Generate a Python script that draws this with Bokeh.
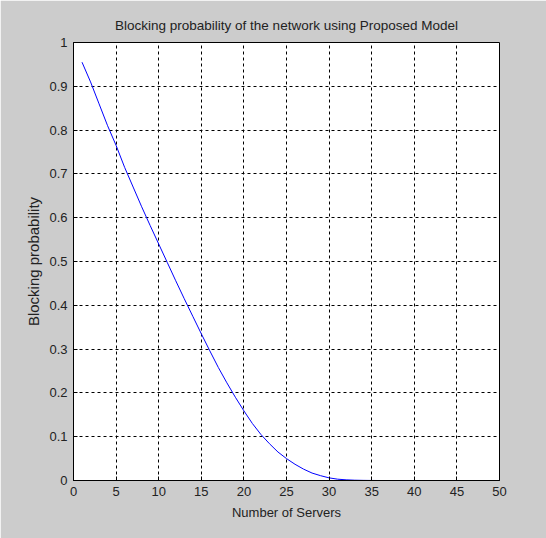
from bokeh.plotting import figure
from bokeh.models import FixedTicker, Range1d
from bokeh.embed import file_html
from bokeh.resources import INLINE

servers = list(range(1, 51))
blocking = [0.955, 0.91, 0.86, 0.81, 0.765, 0.715, 0.67, 0.625, 0.582, 0.54,
            0.498, 0.456, 0.415, 0.375, 0.335, 0.296, 0.258, 0.223, 0.19, 0.159,
            0.13, 0.105, 0.084, 0.065, 0.05, 0.037, 0.026, 0.017, 0.011, 0.006,
            0.003, 0.0015, 0.0007, 0.0003, 0.0001, 0.0, 0.0, 0.0, 0.0, 0.0,
            0.0, 0.0, 0.0, 0.0, 0.0, 0.0, 0.0, 0.0, 0.0, 0.0]
x_ticks = [0, 5, 10, 15, 20, 25, 30, 35, 40, 45, 50]
y_ticks = [0, 0.1, 0.2, 0.3, 0.4, 0.5, 0.6, 0.7, 0.8, 0.9, 1]

FONT = "Liberation Sans"
GREY = "#cccccc"

p = figure(width=546, height=538, output_backend="svg", toolbar_location=None,
           x_range=Range1d(0, 50), y_range=Range1d(0, 1),
           title="Blocking probability of the network using Proposed Model",
           min_border_left=73, min_border_right=47, min_border_top=42, min_border_bottom=58)
p.background_fill_color = "white"
p.border_fill_color = GREY
p.outline_line_color = "black"
p.outline_line_width = 1

p.title.align = "center"
p.title.text_font = FONT
p.title.text_font_style = "normal"
p.title.text_font_size = "13.5px"
p.title.text_color = "#222222"
p.title.standoff = 20

p.line(servers, blocking, line_color="#0000ff", line_width=1)

p.xaxis.ticker = FixedTicker(ticks=x_ticks)
p.yaxis.ticker = FixedTicker(ticks=y_ticks)
p.xaxis.major_label_overrides = {t: f"{t:g}" for t in x_ticks}
p.yaxis.major_label_overrides = {t: f"{t:g}" for t in y_ticks}
p.xaxis.axis_label = "Number of Servers"
p.yaxis.axis_label = "Blocking probability"

for ax in (p.xaxis, p.yaxis):
    ax.axis_line_color = "black"
    ax.major_tick_line_color = "black"
    ax.major_tick_in = 4
    ax.major_tick_out = 0
    ax.minor_tick_line_color = None
    ax.major_label_text_font = FONT
    ax.major_label_text_font_size = "13px"
    ax.major_label_text_color = "#222222"
    ax.axis_label_text_font = FONT
    ax.axis_label_text_font_style = "normal"
    ax.axis_label_text_color = "#222222"

p.xaxis.axis_label_text_font_size = "13px"
p.yaxis.axis_label_text_font_size = "15px"
p.xaxis.major_label_standoff = 6
p.yaxis.major_label_standoff = 6
p.xaxis.axis_label_standoff = 6
p.yaxis.axis_label_standoff = 4

for g in (p.xgrid, p.ygrid):
    g.grid_line_color = "black"
    g.grid_line_dash = "3 3"
    g.grid_line_width = 1
    g.grid_line_alpha = 1

open("out.html", "w").write(file_html(p, INLINE))
